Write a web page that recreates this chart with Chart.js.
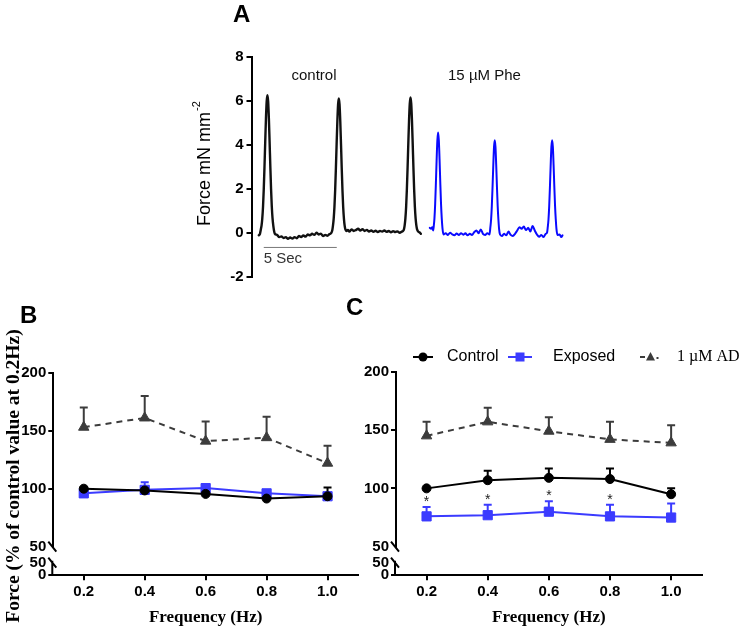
<!DOCTYPE html>
<html>
<head>
<meta charset="utf-8">
<script src="https://cdn.jsdelivr.net/npm/chart.js@4.4.1/dist/chart.umd.min.js"></script>
<style>
  html, body { margin: 0; padding: 0; background: #fff; }
  #fig { position: relative; width: 740px; height: 628px; overflow: hidden; background: #fff; }
  #fig canvas { position: absolute; left: 0; top: 0; }
</style>
</head>
<body>
<div id="fig">
  <canvas id="chartA" width="740" height="628"></canvas>
  <canvas id="chartB" width="740" height="628"></canvas>
  <canvas id="chartC" width="740" height="628"></canvas>
</div>
<script>
// ---- panel A: force traces (time in s, force in mN/mm2) ----
const controlTime = [0.00, 0.08, 0.14, 0.19, 0.24, 0.29, 0.34, 0.39, 0.44, 0.49, 0.54, 0.59, 0.64, 0.69,
  0.74, 0.79, 0.84, 0.89, 0.94, 0.99, 1.04, 1.10, 1.25, 1.40, 1.55, 1.70, 1.85, 2.00, 2.15, 2.30, 2.45,
  2.60, 2.75, 2.90, 3.05, 3.20, 3.35, 3.50, 3.65, 3.80, 3.95, 4.10, 4.25, 4.40, 4.55, 4.70, 4.85, 4.95,
  5.03, 5.08, 5.13, 5.18, 5.23, 5.28, 5.33, 5.38, 5.43, 5.48, 5.53, 5.58, 5.63, 5.68, 5.73, 5.78, 5.83,
  5.88, 5.93, 6.00, 6.10, 6.20, 6.35, 6.50, 6.65, 6.80, 6.95, 7.10, 7.25, 7.40, 7.55, 7.70, 7.85, 8.00,
  8.15, 8.30, 8.45, 8.60, 8.75, 8.90, 9.05, 9.20, 9.35, 9.50, 9.65, 9.80, 9.88, 9.94, 9.99, 10.04, 10.09,
  10.14, 10.19, 10.24, 10.29, 10.34, 10.39, 10.44, 10.49, 10.54, 10.59, 10.64, 10.69, 10.74, 10.79, 10.84,
  10.92, 11.00, 11.10];
const controlForce = [-0.12, -0.05, 0.15, 0.33, 0.66, 1.19, 1.98, 3.0, 4.13, 5.19, 5.97, 6.25, 5.97, 5.19,
  4.13, 3.0, 1.98, 1.19, 0.66, 0.33, 0.1, -0.05, -0.1, -0.2, -0.17, -0.24, -0.2, -0.28, -0.22, -0.27, -0.2,
  -0.25, -0.15, -0.2, -0.12, -0.18, -0.08, -0.12, -0.05, -0.1, 0.0, -0.08, -0.04, -0.15, -0.1, -0.14, -0.06, -0.02,
  0.1, 0.32, 0.64, 1.16, 1.93, 2.93, 4.03, 5.06, 5.83, 6.1, 5.83, 5.06, 4.03, 2.93, 1.93, 1.16, 0.64,
  0.32, 0.15, 0.08, 0.12, 0.05, 0.15, 0.08, 0.12, 0.18, 0.1, 0.16, 0.08, 0.13, 0.05, 0.1, 0.04, 0.09,
  0.03, 0.08, 0.05, 0.1, 0.04, 0.08, 0.02, 0.07, 0.03, 0.06, 0.0, 0.05, 0.08, 0.15, 0.33, 0.65, 1.17,
  1.95, 2.95, 4.06, 5.1, 5.87, 6.15, 5.87, 5.1, 4.06, 2.95, 1.95, 1.17, 0.65, 0.33, 0.15,
  0.05, 0.02, -0.05];
const pheTime = [11.71, 11.80, 11.88, 11.94, 11.98, 12.03, 12.08, 12.13, 12.18, 12.23, 12.28, 12.33, 12.38,
  12.43, 12.48, 12.53, 12.58, 12.65, 12.80, 12.95, 13.10, 13.25, 13.40, 13.55, 13.70, 13.85, 14.00, 14.15,
  14.30, 14.45, 14.60, 14.75, 14.90, 15.05, 15.20, 15.35, 15.50, 15.65, 15.80, 15.86, 15.91, 15.96, 16.01,
  16.06, 16.11, 16.16, 16.21, 16.26, 16.31, 16.36, 16.41, 16.46, 16.52, 16.65, 16.80, 16.95, 17.10, 17.25,
  17.40, 17.55, 17.70, 17.85, 18.00, 18.15, 18.30, 18.45, 18.60, 18.75, 18.90, 19.05, 19.20, 19.35, 19.50,
  19.65, 19.74, 19.79, 19.84, 19.89, 19.94, 19.99, 20.04, 20.09, 20.14, 20.19, 20.24, 20.29, 20.34, 20.39,
  20.45, 20.60, 20.72, 20.80];
const pheForce = [0.22, 0.18, 0.25, 0.1, 0.28, 0.65, 1.32, 2.27, 3.33, 4.2, 4.55, 4.2, 3.33,
  2.27, 1.32, 0.65, 0.2, -0.08, -0.02, -0.1, 0.0, -0.08, -0.12, -0.04, -0.1, -0.02, -0.09, -0.03,
  -0.12, -0.05, -0.1, 0.02, 0.1, -0.02, 0.15, -0.05, -0.1, -0.02, -0.08, 0.25, 0.6, 1.22, 2.1,
  3.07, 3.9, 4.2, 3.9, 3.07, 2.1, 1.22, 0.6, 0.15, -0.08, -0.15, -0.05, -0.12, 0.05, -0.1,
  -0.15, -0.05, 0.1, 0.25, 0.18, 0.28, 0.12, 0.22, 0.05, 0.3, 0.1, -0.08, -0.18, -0.1, -0.2,
  -0.05, 0.0, 0.25, 0.6, 1.22, 2.1, 3.07, 3.9, 4.2, 3.9, 3.07, 2.1, 1.22, 0.6, 0.15,
  -0.1, -0.08, -0.2, -0.12];
const forceTicks = [-2, 0, 2, 4, 6, 8];

// ---- panels B and C: % of control value at 0.2 Hz ----
const freqs = ['0.2', '0.4', '0.6', '0.8', '1.0'];
const bControl = [100, 98.5, 95.5, 91.5, 93.5];
const bControlErr = [1, 1.5, 1.5, 1.5, 7.5];
const bExposed = [96, 99, 100.5, 96, 93.5];
const bExposedErr = [1.5, 6.5, 2, 2, 2];
const bAD = [153, 161, 141, 144, 122];
const bADErr = [17, 19, 17, 18, 15];
const cControl = [100, 107, 109, 108, 95];
const cControlErr = [0, 8, 8, 9, 5];
const cExposed = [76, 77, 80, 76, 75];
const cExposedErr = [8, 9, 9, 10, 12];
const cExposedSig = ['*', '*', '*', '*', ''];
const cAD = [145, 157, 149, 142, 139];
const cADErr = [12, 12, 12, 15, 15];
const upperTicks = [50, 100, 150, 200];
const lowerTicks = [0, 50];

const SANS = "'Liberation Sans', Arial, sans-serif";
const SERIF = "'Liberation Serif', 'Times New Roman', serif";
const BLUE = '#3b3bff';
const GRAY = '#3c3c3c';

Chart.defaults.font.family = SANS;
Chart.defaults.color = '#000';
Chart.defaults.animation = false;
Chart.defaults.plugins.legend.display = false;
Chart.defaults.plugins.tooltip.enabled = false;

const tickFont = { family: SANS, size: 15, weight: 'bold' };
const tickGrid = { drawOnChartArea: false, color: '#000', lineWidth: 2, tickLength: 5 };

function letter(ctx, txt, x, y) {
  ctx.save();
  ctx.font = 'bold 24px ' + SANS;
  ctx.fillStyle = '#000';
  ctx.textBaseline = 'alphabetic';
  ctx.fillText(txt, x, y);
  ctx.restore();
}

// ---------- panel A ----------
const toPoints = (ts, vs) => ts.map((t, i) => ({ x: t, y: vs[i] }));

const traceDecor = {
  id: 'traceDecor',
  afterDraw(chart) {
    const { ctx, scales: { x, y } } = chart;
    letter(ctx, 'A', 233, 22);

    ctx.save();
    ctx.fillStyle = '#111';
    ctx.font = '15px ' + SANS;
    ctx.textBaseline = 'middle';
    ctx.fillText('control', x.getPixelForValue(2.24), y.getPixelForValue(7.15));
    ctx.fillText('15 \u00b5M Phe', x.getPixelForValue(12.96), y.getPixelForValue(7.15));

    // 5 s scale bar
    ctx.strokeStyle = '#777';
    ctx.lineWidth = 1;
    ctx.beginPath();
    ctx.moveTo(x.getPixelForValue(0.34), y.getPixelForValue(-0.67));
    ctx.lineTo(x.getPixelForValue(5.34), y.getPixelForValue(-0.67));
    ctx.stroke();
    ctx.fillStyle = '#333';
    ctx.fillText('5 Sec', x.getPixelForValue(0.34), y.getPixelForValue(-1.17));

    // y title with superscript
    ctx.translate(205, 164);
    ctx.rotate(-Math.PI / 2);
    ctx.fillStyle = '#000';
    ctx.font = '18px ' + SANS;
    const main = 'Force mN mm';
    const w1 = ctx.measureText(main).width;
    ctx.font = '11px ' + SANS;
    const w2 = ctx.measureText('-2').width;
    const start = -(w1 + w2) / 2;
    ctx.font = '18px ' + SANS;
    ctx.fillText(main, start, 0);
    ctx.font = '11px ' + SANS;
    ctx.fillText('-2', start + w1 + 1, -8);
    ctx.restore();
  }
};

new Chart(document.getElementById('chartA'), {
  type: 'line',
  data: {
    datasets: [
      { label: 'control', data: toPoints(controlTime, controlForce), borderColor: '#111', borderWidth: 2.4 },
      { label: '15 \u00b5M Phe', data: toPoints(pheTime, pheForce), borderColor: '#0a0aff', borderWidth: 2 }
    ]
  },
  options: {
    responsive: false,
    layout: { padding: { left: 194, top: 56.7, right: 170.2, bottom: 351.3 } },
    elements: {
      point: { radius: 0 },
      line: { cubicInterpolationMode: 'monotone', borderJoinStyle: 'round', borderCapStyle: 'round' }
    },
    scales: {
      x: { type: 'linear', display: false, min: -0.5, max: 21.3 },
      y: {
        min: -2, max: 8,
        afterBuildTicks: s => { s.ticks = forceTicks.map(v => ({ value: v })); },
        grid: tickGrid,
        border: { color: '#000', width: 2 },
        ticks: { font: tickFont, padding: 3, color: '#000' },
        afterFit: s => { s.width = 57.5; }
      }
    }
  },
  plugins: [traceDecor]
});

// ---------- panels B and C ----------
const errorBars = {
  id: 'errorBars',
  beforeDatasetsDraw(chart) {
    const ctx = chart.ctx;
    chart.data.datasets.forEach((ds, i) => {
      const meta = chart.getDatasetMeta(i);
      const ys = chart.scales[meta.yAxisID];
      ctx.save();
      ctx.strokeStyle = ds.borderColor;
      ctx.lineWidth = 2;
      meta.data.forEach((pt, j) => {
        const e = ds.errors[j];
        if (!e) return;
        const top = ys.getPixelForValue(ds.data[j] + e);
        ctx.beginPath();
        ctx.moveTo(pt.x, pt.y);
        ctx.lineTo(pt.x, top);
        ctx.moveTo(pt.x - 4, top);
        ctx.lineTo(pt.x + 4, top);
        ctx.stroke();
      });
      ctx.restore();
    });
  },
  afterDatasetsDraw(chart) {
    const ctx = chart.ctx;
    chart.data.datasets.forEach((ds, i) => {
      if (!ds.marks) return;
      const meta = chart.getDatasetMeta(i);
      const ys = chart.scales[meta.yAxisID];
      ctx.save();
      ctx.fillStyle = '#222';
      ctx.font = '14px ' + SANS;
      ctx.textAlign = 'center';
      ctx.textBaseline = 'middle';
      meta.data.forEach((pt, j) => {
        if (!ds.marks[j]) return;
        ctx.fillText(ds.marks[j], pt.x, ys.getPixelForValue(ds.data[j] + ds.errors[j]) - 5);
      });
      ctx.restore();
    });
  }
};

const brokenAxis = {
  id: 'brokenAxis',
  afterDraw(chart) {
    const { ctx, scales: { y, yLow } } = chart;
    const x = chart.chartArea.left - 1;
    const yb = y.getPixelForValue(50);
    const yl = yLow.getPixelForValue(50);
    const y0 = yLow.getPixelForValue(0);
    ctx.save();
    ctx.strokeStyle = '#000';
    ctx.lineWidth = 2;
    ctx.beginPath();
    ctx.moveTo(x, yl - 2);
    ctx.lineTo(x, y0);
    ctx.moveTo(x - 4, yb - 5);
    ctx.lineTo(x + 4, yb + 5);
    ctx.moveTo(x - 4, yl - 5);
    ctx.lineTo(x + 4, yl + 5);
    ctx.stroke();
    ctx.restore();
  }
};

const hideAt50 = c => (c.tick && c.tick.value === 50 ? 'rgba(0,0,0,0)' : '#000');

function freqChart(id, cfg) {
  const lowerH = 28.6;
  return new Chart(document.getElementById(id), {
    type: 'line',
    data: {
      labels: freqs,
      datasets: [
        { label: 'Control', data: cfg.control, errors: cfg.controlErr, borderColor: '#000', backgroundColor: '#000',
          pointStyle: 'circle', pointRadius: 4.5, order: 1 },
        { label: 'Exposed', data: cfg.exposed, errors: cfg.exposedErr, marks: cfg.marks, borderColor: BLUE, backgroundColor: BLUE,
          pointStyle: 'rect', pointRadius: 6.5, order: 2 },
        { label: '1 \u00b5M AD', data: cfg.ad, errors: cfg.adErr, borderColor: GRAY, backgroundColor: GRAY,
          pointStyle: 'triangle', pointRadius: 6, borderDash: [6, 5], order: 3 }
      ]
    },
    options: {
      responsive: false,
      layout: { padding: { left: 0, top: cfg.top, right: 740 - cfg.right, bottom: 0 } },
      elements: { line: { tension: 0, borderWidth: 2 }, point: { borderWidth: 1 } },
      scales: {
        x: {
          type: 'category', offset: true,
          grid: { ...tickGrid, offset: false },
          border: { color: '#000', width: 2 },
          ticks: { font: tickFont, color: '#000', padding: 3, maxRotation: 0, autoSkip: false },
          title: { display: true, text: 'Frequency (Hz)', color: '#000', padding: 0,
                   font: { family: SERIF, size: 17, weight: 'bold' } },
          afterFit: s => { s.height = 628 - 575.3; }
        },
        y: {
          position: 'left', stack: 'v', stackWeight: 546.7 - cfg.top, weight: 1,
          min: 50, max: 200,
          afterBuildTicks: s => { s.ticks = upperTicks.map(v => ({ value: v })); },
          grid: { ...tickGrid, color: hideAt50 },
          border: { color: '#000', width: 2 },
          ticks: { font: tickFont, color: '#000', padding: 2, autoSkip: false },
          afterFit: s => { s.width = cfg.left; }
        },
        yLow: {
          position: 'left', stack: 'v', stackWeight: lowerH, weight: 0,
          min: 0, max: 50 * lowerH / 12.6,
          afterBuildTicks: s => { s.ticks = lowerTicks.map(v => ({ value: v })); },
          grid: { ...tickGrid, color: hideAt50 },
          border: { display: false },
          ticks: { font: tickFont, color: '#000', padding: 2, autoSkip: false },
          afterFit: s => { s.width = cfg.left; }
        }
      }
    },
    plugins: [errorBars, brokenAxis, cfg.decor]
  });
}

const panelB = {
  id: 'panelB',
  afterDraw(chart) {
    const ctx = chart.ctx;
    letter(ctx, 'B', 20, 323);
    ctx.save();
    ctx.translate(14, 476);
    ctx.rotate(-Math.PI / 2);
    ctx.font = 'bold 19.5px ' + SERIF;
    ctx.fillStyle = '#000';
    ctx.textAlign = 'center';
    ctx.textBaseline = 'middle';
    ctx.fillText('Force (% of control value at 0.2Hz)', 0, 0);
    ctx.restore();
  }
};

const panelC = {
  id: 'panelC',
  afterDraw(chart) {
    const ctx = chart.ctx;
    letter(ctx, 'C', 346, 315);
    const ly = 357;
    ctx.save();
    ctx.lineWidth = 2;
    ctx.textBaseline = 'middle';
    // Control
    ctx.strokeStyle = '#000';
    ctx.fillStyle = '#000';
    ctx.beginPath(); ctx.moveTo(413, ly); ctx.lineTo(433, ly); ctx.stroke();
    ctx.beginPath(); ctx.arc(423, ly, 4.5, 0, Math.PI * 2); ctx.fill();
    ctx.font = '16px ' + SANS;
    ctx.fillText('Control', 447, ly);
    // Exposed
    ctx.strokeStyle = BLUE;
    ctx.fillStyle = BLUE;
    ctx.beginPath(); ctx.moveTo(508, ly); ctx.lineTo(532, ly); ctx.stroke();
    ctx.fillRect(515.5, ly - 4.5, 9, 9);
    ctx.fillStyle = '#000';
    ctx.fillText('Exposed', 553, ly);
    // 1 uM AD
    ctx.strokeStyle = GRAY;
    ctx.fillStyle = GRAY;
    ctx.beginPath(); ctx.moveTo(640, ly); ctx.lineTo(645, ly); ctx.stroke();
    ctx.beginPath(); ctx.moveTo(650.5, ly - 5); ctx.lineTo(655, ly + 3.5); ctx.lineTo(646, ly + 3.5); ctx.closePath(); ctx.fill();
    ctx.fillRect(656.5, ly, 2, 2);
    ctx.fillStyle = '#000';
    ctx.font = '16px ' + SERIF;
    ctx.fillText('1 \u00b5M AD', 677, ly);
    ctx.restore();
  }
};

freqChart('chartB', {
  control: bControl, controlErr: bControlErr,
  exposed: bExposed, exposedErr: bExposedErr,
  ad: bAD, adErr: bADErr,
  left: 53.3, right: 358, top: 372.7, decor: panelB
});

freqChart('chartC', {
  control: cControl, controlErr: cControlErr,
  exposed: cExposed, exposedErr: cExposedErr, marks: cExposedSig,
  ad: cAD, adErr: cADErr,
  left: 396, right: 701.7, top: 371.7, decor: panelC
});
</script>
</body>
</html>
